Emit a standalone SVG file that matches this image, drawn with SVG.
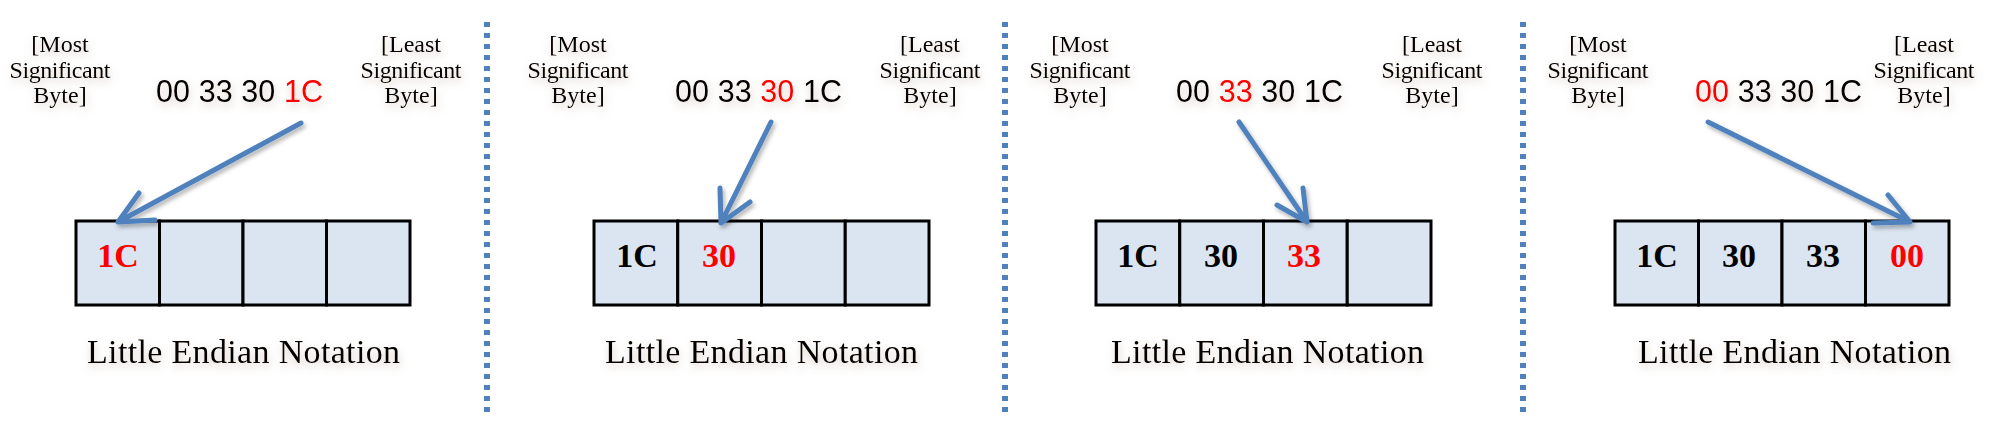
<svg xmlns="http://www.w3.org/2000/svg" width="2000" height="435" viewBox="0 0 2000 435">
<defs>
<filter id="tsh" x="-20%" y="-40%" width="140%" height="200%">
<feDropShadow dx="1" dy="4" stdDeviation="4" flood-color="#8a6a50" flood-opacity="0.35"/>
</filter>
<filter id="ash" x="-20%" y="-20%" width="140%" height="140%">
<feDropShadow dx="2" dy="3" stdDeviation="2" flood-color="#000" flood-opacity="0.3"/>
</filter>
</defs>
<style>
.lbl{font-family:"Liberation Serif",serif;font-size:24px;fill:#000;text-anchor:middle}
.num{font-family:"Liberation Sans",sans-serif;font-size:30.5px;fill:#000}
.cell{fill:#dbe5f1;stroke:#000;stroke-width:3}
.ct{font-family:"Liberation Serif",serif;font-weight:bold;font-size:34px;fill:#000;text-anchor:middle}
.red{fill:#ff0000}
.cap{font-family:"Liberation Serif",serif;font-size:34px;fill:#000}
.sep{stroke:#4f81bd;stroke-width:6;stroke-dasharray:5 6}
.arr{fill:none;stroke:#4f81bd;stroke-width:5;stroke-linecap:round;stroke-linejoin:round}
</style>

<g id="separators">
<line class="sep" x1="487" y1="22" x2="487" y2="416"/>
<line class="sep" x1="1005" y1="22" x2="1005" y2="416"/>
<line class="sep" x1="1523" y1="22" x2="1523" y2="416"/>
</g>

<g id="panel1">
<g filter="url(#tsh)">
<text class="lbl" x="60" y="52">[Most</text>
<text class="lbl" x="60" y="78" textLength="101">Significant</text>
<text class="lbl" x="60" y="103">Byte]</text>
<text class="lbl" x="411" y="52">[Least</text>
<text class="lbl" x="411" y="78" textLength="101">Significant</text>
<text class="lbl" x="411" y="103">Byte]</text>
<text class="num" x="156" y="102" textLength="167">00 33 30 <tspan class="red">1C</tspan></text>
<text class="cap" x="87" y="363" textLength="313">Little Endian Notation</text>
</g>
<rect class="cell" x="76" y="221" width="83.5" height="84"/>
<rect class="cell" x="159.5" y="221" width="83.5" height="84"/>
<rect class="cell" x="243" y="221" width="83.5" height="84"/>
<rect class="cell" x="326.5" y="221" width="83.5" height="84"/>
<text class="ct red" x="118" y="267">1C</text>
</g>

<g id="panel2">
<g filter="url(#tsh)">
<text class="lbl" x="578" y="52">[Most</text>
<text class="lbl" x="578" y="78" textLength="101">Significant</text>
<text class="lbl" x="578" y="103">Byte]</text>
<text class="lbl" x="930" y="52">[Least</text>
<text class="lbl" x="930" y="78" textLength="101">Significant</text>
<text class="lbl" x="930" y="103">Byte]</text>
<text class="num" x="675" y="102" textLength="167">00 33 <tspan class="red">30</tspan> 1C</text>
<text class="cap" x="605" y="363" textLength="313">Little Endian Notation</text>
</g>
<rect class="cell" x="594" y="221" width="83.75" height="84"/>
<rect class="cell" x="677.75" y="221" width="83.75" height="84"/>
<rect class="cell" x="761.5" y="221" width="83.75" height="84"/>
<rect class="cell" x="845.25" y="221" width="83.75" height="84"/>
<text class="ct" x="637" y="267">1C</text>
<text class="ct red" x="719" y="267">30</text>
</g>

<g id="panel3">
<g filter="url(#tsh)">
<text class="lbl" x="1080" y="52">[Most</text>
<text class="lbl" x="1080" y="78" textLength="101">Significant</text>
<text class="lbl" x="1080" y="103">Byte]</text>
<text class="lbl" x="1432" y="52">[Least</text>
<text class="lbl" x="1432" y="78" textLength="101">Significant</text>
<text class="lbl" x="1432" y="103">Byte]</text>
<text class="num" x="1176" y="102" textLength="167">00 <tspan class="red">33</tspan> 30 1C</text>
<text class="cap" x="1111" y="363" textLength="313">Little Endian Notation</text>
</g>
<rect class="cell" x="1096" y="221" width="83.75" height="84"/>
<rect class="cell" x="1179.75" y="221" width="83.75" height="84"/>
<rect class="cell" x="1263.5" y="221" width="83.75" height="84"/>
<rect class="cell" x="1347.25" y="221" width="83.75" height="84"/>
<text class="ct" x="1138" y="267">1C</text>
<text class="ct" x="1221" y="267">30</text>
<text class="ct red" x="1304" y="267">33</text>
</g>

<g id="panel4">
<g filter="url(#tsh)">
<text class="lbl" x="1598" y="52">[Most</text>
<text class="lbl" x="1598" y="78" textLength="101">Significant</text>
<text class="lbl" x="1598" y="103">Byte]</text>
<text class="lbl" x="1924" y="52">[Least</text>
<text class="lbl" x="1924" y="78" textLength="101">Significant</text>
<text class="lbl" x="1924" y="103">Byte]</text>
<text class="num" x="1695" y="102" textLength="167"><tspan class="red">00</tspan> 33 30 1C</text>
<text class="cap" x="1638" y="363" textLength="313">Little Endian Notation</text>
</g>
<rect class="cell" x="1615" y="221" width="83.5" height="84"/>
<rect class="cell" x="1698.5" y="221" width="83.5" height="84"/>
<rect class="cell" x="1782" y="221" width="83.5" height="84"/>
<rect class="cell" x="1865.5" y="221" width="83.5" height="84"/>
<text class="ct" x="1657" y="267">1C</text>
<text class="ct" x="1739" y="267">30</text>
<text class="ct" x="1823" y="267">33</text>
<text class="ct red" x="1907" y="267">00</text>
</g>

<g id="connectors" filter="url(#ash)">
<path class="arr" d="M301 123 L118 222 M139 193 L118 222 L155 220"/>
<path class="arr" d="M771 122 L721 223 M720 188 L721 223 L750 202"/>
<path class="arr" d="M1239 122 L1307 222 M1303 188 L1307 222 L1277 205"/>
<path class="arr" d="M1708 122 L1910 222 M1888 195 L1910 222 L1873 223"/>
</g>
</svg>
